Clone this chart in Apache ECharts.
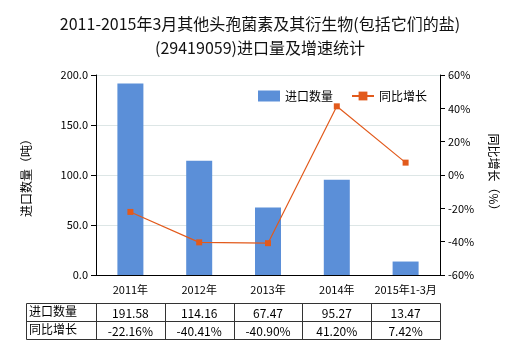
<!DOCTYPE html>
<html><head><meta charset="utf-8">
<script src="https://cdn.jsdelivr.net/npm/echarts@6/dist/echarts.min.js"></script>
<style>html,body{margin:0;padding:0;background:#fff}#c{width:520px;height:350px}</style>
</head><body><div id="c"></div>
<script>
const categories = ['2011年', '2012年', '2013年', '2014年', '2015年1-3月'];
const importQty = [191.58, 114.16, 67.47, 95.27, 13.47];
const growthPct = [-22.16, -40.41, -40.90, 41.20, 7.42];
const rowNames = ['进口数量', '同比增长'];

const FONT = '"Noto Sans CJK SC", "Microsoft YaHei", sans-serif';
const gridL = 96, gridR = 440, gridT = 75, gridB = 275;
const colW = (gridR - gridL) / categories.length;

// table under the chart: label column + one column per category
const tblL = 26, tblT = 303, rowH = 18;
const graphics = [];
graphics.push({type: 'rect', shape: {x: tblL + 0.5, y: tblT + 0.5, width: gridR - tblL, height: rowH * 2},
  style: {fill: 'none', stroke: '#333', lineWidth: 1}, silent: true});
graphics.push({type: 'line', shape: {x1: tblL, y1: tblT + rowH + 0.5, x2: gridR, y2: tblT + rowH + 0.5},
  style: {stroke: '#333', lineWidth: 1}, silent: true});
for (let i = 0; i < categories.length; i++) {
  const x = Math.round(gridL + colW * i) + 0.5;
  graphics.push({type: 'line', shape: {x1: x, y1: tblT, x2: x, y2: tblT + rowH * 2},
    style: {stroke: '#333', lineWidth: 1}, silent: true});
}
const rows = [importQty.map(v => v.toFixed(2)), growthPct.map(v => v.toFixed(2) + '%')];
rows.forEach((vals, r) => {
  graphics.push({type: 'text', left: tblL + 3, top: tblT + r * rowH + 2,
    style: {text: rowNames[r], font: '12px ' + FONT, fill: '#000'}, silent: true});
  vals.forEach((t, i) => {
    graphics.push({type: 'text', x: gridL + colW * (i + 0.5), y: tblT + r * rowH + rowH / 2 + 1,
      style: {text: t, font: '12px ' + FONT, fill: '#000', textAlign: 'center', textVerticalAlign: 'middle'}, silent: true});
  });
});

const chart = echarts.init(document.getElementById('c'));
chart.setOption({
  animation: false,
  title: {
    text: '2011-2015年3月其他头孢菌素及其衍生物(包括它们的盐)\n(29419059)进口量及增速统计',
    left: 'center', top: 7,
    textStyle: {fontFamily: FONT, fontSize: 16, fontWeight: 'normal', color: '#111', lineHeight: 24}
  },
  legend: {
    top: 85, left: 253, itemGap: 18, itemWidth: 22, itemHeight: 11,
    textStyle: {fontFamily: FONT, fontSize: 12, color: '#000'},
    data: [{name: '进口数量', icon: 'rect'}, {name: '同比增长'}]
  },
  grid: {left: gridL, right: 520 - gridR, top: gridT, bottom: 350 - gridB, containLabel: false},
  xAxis: {
    type: 'category', data: categories,
    axisLine: {lineStyle: {color: '#000'}},
    axisTick: {show: false},
    axisLabel: {fontFamily: FONT, fontSize: 11, color: '#000', margin: 9, interval: 0}
  },
  yAxis: [{
    type: 'value', min: 0, max: 200, interval: 50,
    name: '进口数量（吨）', nameLocation: 'middle', nameGap: 64, nameRotate: 90,
    nameTextStyle: {fontFamily: FONT, fontSize: 12, color: '#000'},
    axisLine: {show: true, lineStyle: {color: '#000'}},
    axisTick: {show: true, length: 5, lineStyle: {color: '#000'}},
    axisLabel: {fontFamily: FONT, fontSize: 11, color: '#000', formatter: v => v.toFixed(1)},
    splitLine: {lineStyle: {color: '#dde6e6'}}
  }, {
    type: 'value', min: -60, max: 60, interval: 20,
    name: '同比增长（%）', nameLocation: 'middle', nameGap: 48, nameRotate: -90,
    nameTextStyle: {fontFamily: FONT, fontSize: 12, color: '#000'},
    axisLine: {show: true, lineStyle: {color: '#000'}},
    axisTick: {show: true, length: 5, lineStyle: {color: '#000'}},
    axisLabel: {fontFamily: FONT, fontSize: 11, color: '#000', formatter: '{value}%'},
    splitLine: {show: false}
  }],
  series: [{
    name: '进口数量', type: 'bar', data: importQty, barWidth: 26,
    itemStyle: {color: '#5b8fd8'}
  }, {
    name: '同比增长', type: 'line', yAxisIndex: 1, data: growthPct,
    symbol: 'rect', symbolSize: 6,
    lineStyle: {color: '#e25a1c', width: 1.2},
    itemStyle: {color: '#e25a1c'}
  }],
  graphic: graphics
});
</script></body></html>
